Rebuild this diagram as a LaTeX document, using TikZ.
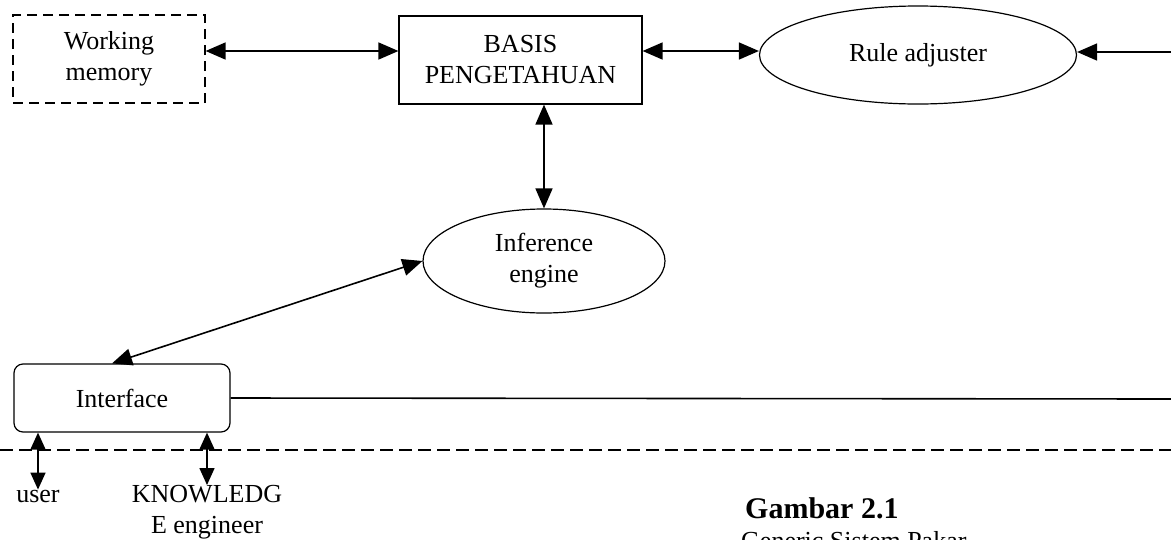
\documentclass[tikz,border=0pt]{standalone}
\usepackage{fontspec}
\setmainfont{Liberation Serif}
\usetikzlibrary{shapes.geometric,arrows.meta}
\begin{document}
\begin{tikzpicture}[x=1pt,y=-1pt,
  txt/.style={font=\fontsize{26}{31}\selectfont, align=center, inner sep=0pt},
  boxnode/.style={txt, draw, line width=1.2pt, minimum width=#1, minimum height=88pt},
  ovalnode/.style={txt, draw, ellipse, line width=1.2pt},
  conn/.style={line width=1.6pt, {Triangle[length=20pt,width=17pt]}-{Triangle[length=20pt,width=17pt]}},
  smallconn/.style={line width=1.6pt, {Triangle[length=17pt,width=15pt]}-{Triangle[length=17pt,width=15pt]}},
  onehead/.style={line width=1.6pt, -{Triangle[length=20pt,width=17pt]}},
  plain/.style={line width=1.6pt}]
\useasboundingbox (0,0) rectangle (1171,539);
\clip (0,0) rectangle (1171,539);

% components
\node[boxnode=192pt, dashed, dash pattern=on 10pt off 6pt] (wm) at (109,59) {Working\\memory};
\node[boxnode=243pt] (kb) at (520.5,60) {BASIS\\PENGETAHUAN};
\node[ovalnode, minimum width=317pt, minimum height=98pt] (ra) at (918,55) {Rule adjuster};
\node[ovalnode, minimum width=242pt, minimum height=104pt] (ie) at (544,261) {Inference\\engine};
\node[txt, draw, line width=1.2pt, rounded corners=9pt, minimum width=216pt, minimum height=68pt] (ui) at (122,398) {Interface};

% actors below the boundary
\node[txt, anchor=base] (usr) at (38,502) {user};
\node[txt, anchor=north] (ke) at (207,485) {KNOWLEDG\\E engineer};

% caption
\node[font=\fontsize{30}{36}\selectfont\bfseries, anchor=base west, inner sep=0pt] (cap) at (745,518) {Gambar 2.1};
\node[txt, anchor=base west] (cap2) at (741,549) {Generic Sistem Pakar};

% free ends at the right edge
\coordinate (rin) at (1171,52);
\coordinate (rout) at (1171,399);
\coordinate (dl) at (0,450);
\coordinate (dr) at (1171,450);

% connectors
\draw[conn] ([yshift=8pt]wm.east) -- ([yshift=9pt]kb.west);
\draw[conn] ([yshift=9pt]kb.east) -- ([yshift=4pt]ra.west);
\draw[onehead] (rin) -- ([yshift=3pt]ra.east);
\draw[conn] (ie.north |- kb.south) -- (ie.north);
\draw[conn] ([xshift=-10pt]ui.north) -- (ie.west);
\draw[plain] (ui.east) -- (rout);
\draw[line width=1.4pt, dash pattern=on 13pt off 6pt] (dl) -- (dr);
\draw[smallconn] (ui.south -| usr.north) -- (usr.north);
\draw[smallconn] (ui.south -| ke.north) -- (ke.north);
\end{tikzpicture}
\end{document}
